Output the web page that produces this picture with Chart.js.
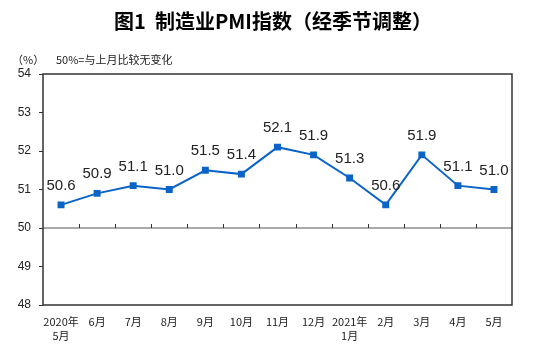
<!DOCTYPE html>
<html>
<head>
<meta charset="utf-8">
<script src="https://cdn.jsdelivr.net/npm/chart.js@4/dist/chart.umd.min.js"></script>
<style>
  html, body { margin: 0; padding: 0; background: #fff; }
  #wrap { width: 554px; height: 349px; }
</style>
</head>
<body>
<div id="wrap"><canvas id="pmi-chart" width="554" height="349"></canvas></div>
<script>
// chart data
const months = [
    ['2020年', '5月'], '6月', '7月', '8月', '9月', '10月', '11月', '12月',
    ['2021年', '1月'], '2月', '3月', '4月', '5月'
];
const pmiValues = [50.6, 50.9, 51.1, 51.0, 51.5, 51.4, 52.1, 51.9, 51.3, 50.6, 51.9, 51.1, 51.0];
const yTicks = [48, 49, 50, 51, 52, 53, 54];
const baseline = 50;

const titleText = '图1  制造业PMI指数（经季节调整）';
const unitText = '（%）';
const noteText = '50%=与上月比较无变化';

const cjkFont = '"Noto Sans CJK SC", "DejaVu Sans", sans-serif';
const numFont = '"Liberation Sans", Arial, sans-serif';

// title, frame, baseline at 50 and the value labels
const decorations = {
    id: 'decorations',
    beforeDatasetsDraw(chart) {
        const { ctx, chartArea: area, scales: { x, y } } = chart;
        const y50 = y.getPixelForValue(baseline);
        ctx.save();
        ctx.strokeStyle = '#8c8c8c';
        ctx.lineWidth = 1.5;
        ctx.beginPath();
        ctx.moveTo(area.left, y50);
        ctx.lineTo(area.right, y50);
        ctx.stroke();

        // category boundary ticks on the 50 line
        ctx.strokeStyle = '#333';
        ctx.lineWidth = 1;
        for (let i = 1; i < months.length; i++) {
            const bx = Math.round((x.getPixelForValue(i - 1) + x.getPixelForValue(i)) / 2) + 0.5;
            ctx.beginPath();
            ctx.moveTo(bx, y50 - 4);
            ctx.lineTo(bx, y50);
            ctx.stroke();
        }

        // frame
        ctx.strokeStyle = '#333';
        ctx.lineWidth = 1.5;
        ctx.strokeRect(area.left, area.top, area.right - area.left, area.bottom - area.top);
        ctx.restore();
    },
    afterDatasetsDraw(chart) {
        const { ctx } = chart;
        const meta = chart.getDatasetMeta(0);
        ctx.save();
        ctx.fillStyle = '#222';
        ctx.font = '15px ' + numFont;
        ctx.textAlign = 'center';
        ctx.textBaseline = 'middle';
        meta.data.forEach((pt, i) => {
            ctx.fillText(pmiValues[i].toFixed(1), pt.x, pt.y - 19);
        });

        // header
        ctx.font = 'bold 20px ' + cjkFont;
        ctx.fillStyle = '#000';
        ctx.fillText(titleText, 273, 21);
        ctx.font = '11px ' + cjkFont;
        ctx.fillStyle = '#222';
        ctx.textAlign = 'left';
        ctx.fillText(unitText, 12, 60);
        ctx.fillText(noteText, 56, 60);
        ctx.restore();
    }
};

new Chart(document.getElementById('pmi-chart'), {
    type: 'line',
    data: {
        labels: months,
        datasets: [{
            data: pmiValues,
            borderColor: '#0a64c8',
            backgroundColor: '#0a64c8',
            borderWidth: 2,
            pointStyle: 'rect',
            pointRadius: 3.5,
            pointHoverRadius: 3.5,
            tension: 0
        }]
    },
    options: {
        responsive: false,
        animation: false,
        layout: { padding: { top: 74, right: 42, left: 0, bottom: 0 } },
        plugins: {
            legend: { display: false },
            tooltip: { enabled: false }
        },
        scales: {
            x: {
                offset: true,
                grid: { display: false },
                border: { display: false },
                ticks: {
                    color: '#222',
                    font: { family: cjkFont, size: 11, lineHeight: 1.35 },
                    padding: 1,
                    maxRotation: 0,
                    autoSkip: false
                },
                afterFit(scale) { scale.height = 44; }
            },
            y: {
                min: 48,
                max: 54,
                afterBuildTicks(scale) { scale.ticks = yTicks.map(v => ({ value: v })); },
                grid: { drawOnChartArea: false, tickLength: 4, color: '#333' },
                border: { display: false },
                ticks: {
                    color: '#222',
                    font: { family: numFont, size: 12 },
                    padding: 8
                },
                afterFit(scale) { scale.width = 43; }
            }
        }
    },
    plugins: [decorations]
});
</script>
</body>
</html>
